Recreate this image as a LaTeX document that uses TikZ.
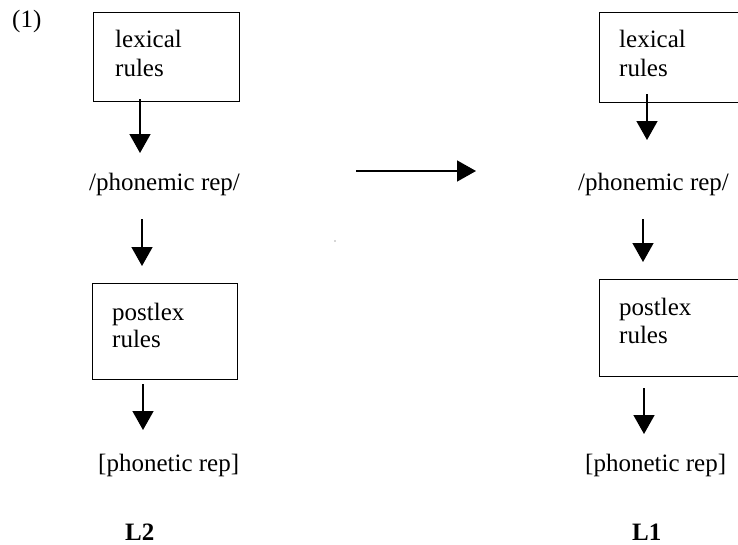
\documentclass[tikz,border=0pt]{standalone}
\usepackage{fontspec}
\setmainfont{Liberation Serif}
\usetikzlibrary{arrows.meta}
\begin{document}
\begin{tikzpicture}[x=1pt,y=-1pt,
  txt/.style={inner sep=0pt, anchor=base west, font=\fontsize{25}{29}\selectfont},
  btxt/.style={txt, font=\fontsize{25}{29}\selectfont\bfseries},
  rbox/.style={draw, line width=1.1pt, inner sep=0pt, anchor=north west},
  arr/.style={line width=1.5pt, -{Triangle[length=19pt,width=21pt]}}]
\useasboundingbox (0,0) rectangle (738,544);
\clip (0,0) rectangle (738,544);
% label
\node[txt] (num) at (12,27) {(1)};
% left column (L2)
\node[rbox, minimum width=146pt, minimum height=89pt] (lexL) at (93,12) {};
\node[txt] (lexLa) at (115,47) {lexical};
\node[txt] (lexLb) at (115,76) {rules};
\node[txt] (phonL) at (89,190) {/phonemic rep/};
\node[rbox, minimum width=145pt, minimum height=96pt] (postL) at (92,283) {};
\node[txt] (postLa) at (112,320) {postlex};
\node[txt] (postLb) at (112,347) {rules};
\node[txt] (phetL) at (98,471) {[phonetic rep]};
\node[btxt] (langL) at (125,540) {L2};
% right column (L1)
\node[rbox, minimum width=200pt, minimum height=90pt] (lexR) at (599,12) {};
\node[txt] (lexRa) at (619,47) {lexical};
\node[txt] (lexRb) at (619,76) {rules};
\node[txt] (phonR) at (578,190) {/phonemic rep/};
\node[rbox, minimum width=200pt, minimum height=97pt] (postR) at (599,279) {};
\node[txt] (postRa) at (619,315) {postlex};
\node[txt] (postRb) at (619,343) {rules};
\node[txt] (phetR) at (585,471) {[phonetic rep]};
\node[btxt] (langR) at (632,540) {L1};
% vertical arrows, left
\draw[arr] ([xshift=47pt,yshift=3pt]lexL.south west) -- ([xshift=51pt,yshift=37pt]phonL.base west);
\draw[arr] ([xshift=50pt,yshift=64pt]postL.north west) -- ([xshift=50pt,yshift=17pt]postL.north west);
\draw[arr] ([xshift=51pt,yshift=-4pt]postL.south west) -- ([xshift=45pt,yshift=41pt]phetL.base west);
% vertical arrows, right
\draw[arr] ([xshift=48pt,yshift=9pt]lexR.south west) -- ([xshift=69pt,yshift=50pt]phonR.base west);
\draw[arr] ([xshift=44pt,yshift=60pt]postR.north west) -- ([xshift=44pt,yshift=17pt]postR.north west);
\draw[arr] ([xshift=45pt,yshift=-11pt]postR.south west) -- ([xshift=59pt,yshift=37pt]phetR.base west);
% horizontal arrow between the two columns
\coordinate (hs) at (356,171);
\coordinate (he) at (476,171);
\draw[arr] (hs) -- (he);
% stray dot
\fill[black!70] (335,241) circle (0.7pt);
\end{tikzpicture}
\end{document}
